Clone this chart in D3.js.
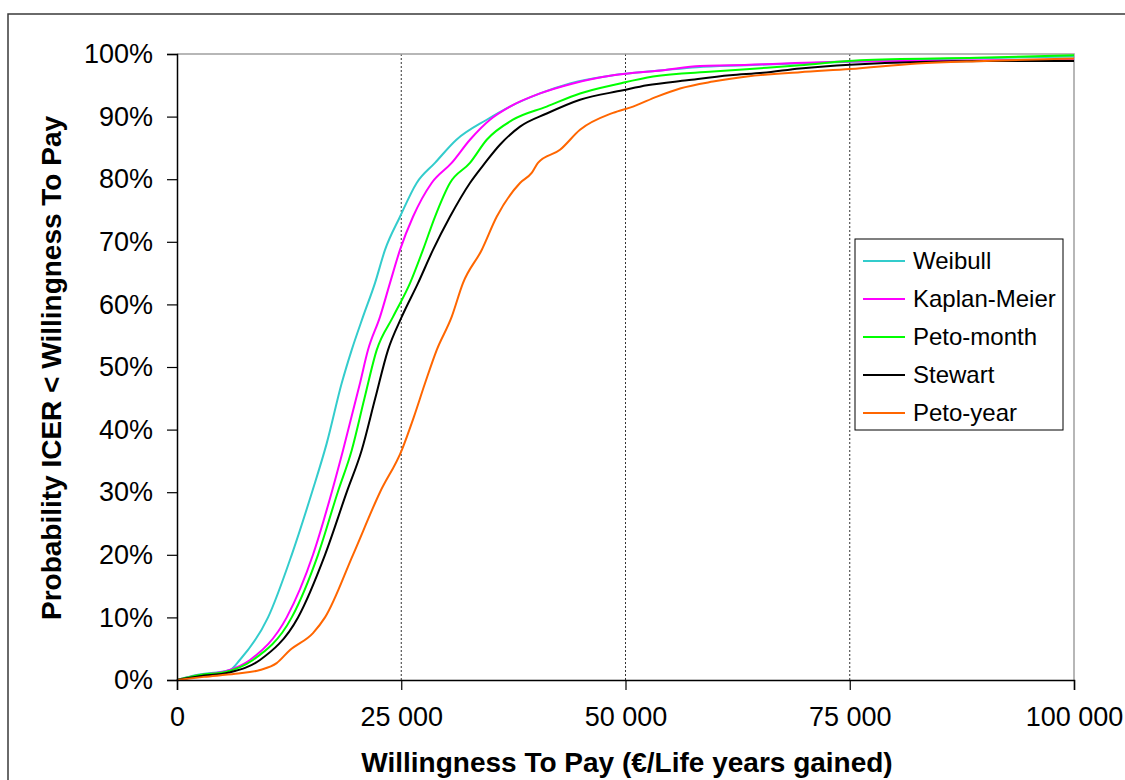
<!DOCTYPE html>
<html>
<head>
<meta charset="utf-8">
<script src="https://cdn.jsdelivr.net/npm/d3@7"></script>
<style>
  html, body { margin: 0; padding: 0; background: #fff; }
  svg { display: block; font-family: Arial, "Liberation Sans", sans-serif; }
</style>
</head>
<body>
<svg id="chart" width="1125" height="780"></svg>
<script>
const width = 1125, height = 780;

// WTP (€/life year gained) vs probability (%)
const weibull = [[0,0],[2200,0.8],[5900,1.6],[7000,3.2],[10150,10],[12790,20],[15050,30],[16690,37.8],[18360,47.4],[19470,52.7],[20730,58],[22070,63.4],[23190,68.7],[24860,74],[26720,79.4],[28760,82.6],[31150,86.3],[34530,89.5],[37120,91.6],[40470,93.7],[43810,95.3],[48610,96.6],[54180,97.4],[57970,97.9],[63540,98.2],[69000,98.5],[85000,99.2],[100000,99.6]];
const kaplanMeier = [[0,0],[2500,0.8],[5400,1.4],[8140,3.2],[12230,10],[15160,20],[17250,30],[18510,36.7],[20400,47.4],[21290,52.7],[22630,58],[23740,63.4],[24860,68.7],[26310,74],[28390,79.4],[30620,82.6],[32660,86.3],[34890,89.5],[37120,91.6],[40470,93.7],[44150,95.3],[48610,96.6],[54180,97.4],[58300,98.1],[61650,98.2],[75000,98.8],[100000,99.1]];
const petoMonth = [[0,0],[2500,0.8],[5400,1.3],[8470,3.2],[12790,10],[15720,20],[17920,30],[19480,36.7],[20900,45],[22260,52.7],[24080,58],[25980,63.4],[27420,68.7],[28760,74],[30430,79.4],[32660,82.6],[34530,86.3],[37450,89.5],[41210,91.6],[44930,93.7],[49390,95.3],[53070,96.4],[59750,97.2],[64660,97.7],[69450,98.2],[76150,99],[89200,99.4],[100000,99.8]];
const stewart = [[0,0],[2500,0.6],[5800,1.2],[9250,3.2],[13490,10],[16500,20],[18920,30],[20590,36.7],[22100,45],[23520,52.7],[25050,58],[26870,63.4],[28540,68.7],[30430,74],[32660,79.4],[34340,82.6],[36000,85.5],[38240,88.4],[41220,90.5],[44930,92.7],[49720,94.2],[52400,95],[56860,95.8],[61650,96.6],[65330,97],[69450,97.7],[75030,98.3],[90630,98.9],[100000,98.9]];
const petoYear = [[0,0],[3000,0.5],[6500,1],[9250,1.6],[11110,2.7],[12600,4.8],[15160,7.5],[16500,10],[19620,20],[22630,30],[25050,36.7],[26400,42],[27650,47.4],[28950,52.7],[30620,58],[31880,63.4],[33970,68.7],[35640,74],[38240,79.4],[39540,81],[40240,82.6],[42700,84.7],[44930,87.9],[48610,90.6],[50840,91.6],[53510,93.2],[56080,94.5],[59750,95.6],[63540,96.4],[69450,97.1],[75030,97.6],[82500,98.5],[90000,98.9],[100000,99.3]];

const seriesNames = ["Weibull", "Kaplan-Meier", "Peto-month", "Stewart", "Peto-year"];
const seriesData = [weibull, kaplanMeier, petoMonth, stewart, petoYear];
const seriesColors = ["#33cccc", "#ff00ff", "#00ff00", "#000000", "#ff6600"];

const xTicks = [0, 25000, 50000, 75000, 100000];
const yTicks = [0, 10, 20, 30, 40, 50, 60, 70, 80, 90, 100];

const svg = d3.select("#chart");

// outer chart frame (runs off the right/bottom edge)
svg.append("rect")
    .attr("x", 8).attr("y", 14)
    .attr("width", 1130).attr("height", 780)
    .attr("fill", "none")
    .attr("stroke", "#3a3a3a")
    .attr("stroke-width", 1.5);

const plot = {left: 177, right: 1074, top: 54, bottom: 680};

const x = d3.scaleLinear().domain([0, 100000]).range([plot.left, plot.right]);
const y = d3.scaleLinear().domain([0, 100]).range([plot.bottom, plot.top]);

// vertical dotted gridlines
svg.append("g")
    .selectAll("line")
    .data(xTicks.slice(1, -1))
    .enter().append("line")
    .attr("x1", d => x(d)).attr("x2", d => x(d))
    .attr("y1", plot.top).attr("y2", plot.bottom)
    .attr("stroke", "#333")
    .attr("stroke-width", 1)
    .attr("stroke-dasharray", "2,2");

// grey top/right plot border
svg.append("path")
    .attr("d", `M${plot.left},${plot.top}H${plot.right}V${plot.bottom}`)
    .attr("fill", "none")
    .attr("stroke", "#a0a0a0")
    .attr("stroke-width", 1.5);

const line = d3.line()
    .x(d => x(d[0]))
    .y(d => y(d[1]))
    .curve(d3.curveMonotoneX);

svg.append("g")
    .selectAll("path")
    .data(seriesData)
    .enter().append("path")
    .attr("d", line)
    .attr("fill", "none")
    .attr("stroke", (d, i) => seriesColors[i])
    .attr("stroke-width", 2)
    .attr("stroke-linejoin", "round");

// axes
const xAxis = svg.append("g")
    .attr("transform", `translate(0,${plot.bottom})`)
    .call(d3.axisBottom(x).tickValues(xTicks).tickSize(10).tickPadding(17)
        .tickFormat(d => d === 0 ? "0" : d3.format(",")(d).replace(",", " ")));
xAxis.select(".domain").attr("stroke", "#000").attr("stroke-width", 1.5);
xAxis.selectAll(".tick line").attr("stroke", "#000").attr("stroke-width", 1.2);
xAxis.selectAll("text")
    .attr("fill", "#000")
    .style("font-size", "27px")
    .style("font-family", "Arial, 'Liberation Sans', sans-serif");

const yAxis = svg.append("g")
    .attr("transform", `translate(${plot.left},0)`)
    .call(d3.axisLeft(y).tickValues(yTicks).tickSize(10).tickPadding(14)
        .tickFormat(d => d + "%"));
yAxis.select(".domain").attr("stroke", "#000").attr("stroke-width", 1.5);
yAxis.selectAll(".tick line").attr("stroke", "#000").attr("stroke-width", 1.2);
yAxis.selectAll("text")
    .attr("fill", "#000")
    .style("font-size", "27px")
    .style("font-family", "Arial, 'Liberation Sans', sans-serif");

// axis titles
svg.append("text")
    .attr("x", 627).attr("y", 772)
    .attr("text-anchor", "middle")
    .style("font-size", "28px")
    .style("font-weight", "bold")
    .text("Willingness To Pay (€/Life years gained)");

svg.append("text")
    .attr("transform", "translate(61,368) rotate(-90)")
    .attr("text-anchor", "middle")
    .style("font-size", "28px")
    .style("font-weight", "bold")
    .text("Probability ICER < Willingness To Pay");

// legend
const legend = svg.append("g");
legend.append("rect")
    .attr("x", 855).attr("y", 239)
    .attr("width", 208).attr("height", 191)
    .attr("fill", "#fff")
    .attr("stroke", "#000")
    .attr("stroke-width", 1);

const items = legend.selectAll(".item")
    .data(seriesNames)
    .enter().append("g")
    .attr("class", "item")
    .attr("transform", (d, i) => `translate(0,${261 + i * 38})`);

items.append("line")
    .attr("x1", 863).attr("x2", 905)
    .attr("stroke", (d, i) => seriesColors[i])
    .attr("stroke-width", 2);

items.append("text")
    .attr("x", 913).attr("dy", "0.35em")
    .style("font-size", "24px")
    .text(d => d);
</script>
</body>
</html>
